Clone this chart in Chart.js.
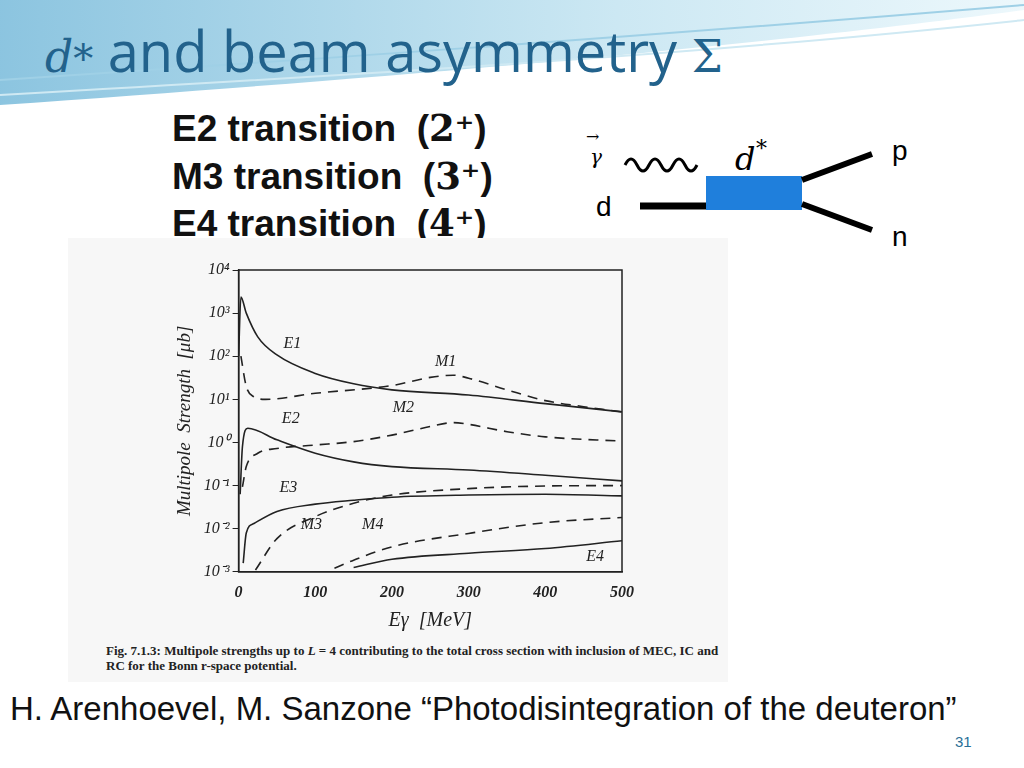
<!DOCTYPE html>
<html>
<head>
<meta charset="utf-8">
<script src="https://cdn.jsdelivr.net/npm/chart.js@4/dist/chart.umd.min.js"></script>
<style>
  body { margin: 0; width: 1024px; height: 768px; overflow: hidden; background: #fff; font-family: "Liberation Sans", Arial, sans-serif; }
  #slide { position: relative; width: 1024px; height: 768px; }
  .abs { position: absolute; }
  #title { left: 45px; top: 12px; font-size: 56px; color: #22628c; font-family: "Open Sans", "Liberation Sans", sans-serif; white-space: nowrap; }
  .trans { left: 172px; font-size: 37px; font-weight: bold; color: #111; white-space: nowrap; }
  #plotbox { left: 68px; top: 238px; width: 660px; height: 444px; background: #f7f7f7; }
  #wrap { left: 170px; top: 244px; width: 470px; height: 393px; }
  #caption { left: 106px; top: 643px; font-family: "Liberation Serif", serif; font-size: 13px; font-weight: bold; color: #222; line-height: 15px; width: 615px; }
  #cite { left: 10px; top: 690px; font-size: 33px; color: #111; white-space: nowrap; }
  #page { left: 955px; top: 733px; font-size: 15px; color: #2a6f97; }
</style>
</head>
<body>
<div id="slide">
  <svg class="abs" style="left:0;top:0" width="1024" height="120">
    <defs>
      <linearGradient id="g" x1="0" y1="0" x2="1" y2="0">
        <stop offset="0" stop-color="#6fb6d8"/>
        <stop offset="0.6" stop-color="#bfe2f0"/>
        <stop offset="1" stop-color="#e8f6fb"/>
      </linearGradient>
    </defs>
    <path d="M0,0 L1024,0 L1024,10 C800,40 500,70 0,105 Z" fill="url(#g)" opacity="0.8"/>
    <path d="M0,80 C300,60 600,40 1024,5" stroke="#9fd0e6" stroke-width="2" fill="none"/>
    <path d="M0,95 C350,75 700,55 1024,20" stroke="#cfe9f3" stroke-width="2" fill="none"/>
  </svg>
  <div id="title" class="abs"><i style="font-family:'DejaVu Serif',serif;font-size:44px">d</i><span style="font-family:'DejaVu Serif',serif;font-size:40px">*</span> and beam asymmetry <span style="font-family:'DejaVu Serif',serif;font-size:44px">Σ</span></div>
  <div class="abs trans" style="top:106px">E2 transition &nbsp;(<span style="font-family:'DejaVu Serif',serif">2⁺</span>)</div>
  <div class="abs trans" style="top:154px">M3 transition &nbsp;(<span style="font-family:'DejaVu Serif',serif">3⁺</span>)</div>
  <div class="abs trans" style="top:201px">E4 transition &nbsp;(<span style="font-family:'DejaVu Serif',serif">4⁺</span>)</div>
  <svg class="abs" style="left:580px;top:120px" width="340" height="130">
    <text x="6" y="22" font-family="DejaVu Serif" font-size="16">→</text>
    <text x="10" y="44" font-family="DejaVu Serif" font-style="italic" font-size="20">γ</text>
    <path d="M45,45 q6,-12 12,0 q6,12 12,0 q6,-12 12,0 q6,12 12,0 q6,-12 12,0 q6,12 12,0" stroke="#000" stroke-width="3" fill="none"/>
    <text x="155" y="50" font-family="DejaVu Serif" font-style="italic" font-size="32">d</text>
    <text x="176" y="36" font-family="DejaVu Serif" font-size="22">*</text>
    <text x="16" y="96" font-family="Liberation Sans" font-size="28">d</text>
    <line x1="60" y1="86" x2="128" y2="86" stroke="#000" stroke-width="7"/>
    <rect x="126" y="56" width="96" height="34" fill="#1f7fdc"/>
    <line x1="222" y1="60" x2="292" y2="34" stroke="#000" stroke-width="6"/>
    <line x1="222" y1="84" x2="292" y2="110" stroke="#000" stroke-width="6"/>
    <text x="312" y="40" font-family="Liberation Sans" font-size="28">p</text>
    <text x="312" y="126" font-family="Liberation Sans" font-size="28">n</text>
  </svg>
  <div id="plotbox" class="abs"></div>
  <div id="wrap" class="abs"><canvas id="c"></canvas></div>
  <div id="caption" class="abs">Fig. 7.1.3: Multipole strengths up to <i>L</i> = 4 contributing to the total cross section with inclusion of MEC, IC and RC for the Bonn r-space potential.</div>
  <div id="cite" class="abs">H. Arenhoevel, M. Sanzone “Photodisintegration of the deuteron”</div>
  <div id="page" class="abs">31</div>
</div>
<script>
  // values, as log10(strength) per energy in MeV
  var e1X = [0, 3, 10, 25, 50, 100, 150, 200, 300, 400, 500];
  var e1L = [2.0, 3.37, 3.0, 2.45, 2.03, 1.6, 1.36, 1.22, 1.1, 0.9, 0.71];
  var m1X = [3, 10, 20, 35, 100, 200, 250, 280, 300, 350, 400, 450, 500];
  var m1L = [2.0, 1.3, 1.06, 1.0, 1.14, 1.32, 1.51, 1.56, 1.49, 1.22, 0.97, 0.83, 0.71];
  var e2X = [2, 5, 12, 50, 100, 150, 200, 300, 400, 500];
  var e2L = [-1.2, -0.1, 0.33, 0.06, -0.25, -0.45, -0.56, -0.64, -0.76, -0.89];
  var m2X = [5, 10, 25, 50, 100, 150, 200, 250, 280, 300, 350, 400, 500];
  var m2L = [-1.03, -0.56, -0.25, -0.14, -0.06, 0.02, 0.17, 0.37, 0.46, 0.42, 0.25, 0.13, 0.03];
  var e3X = [6, 10, 20, 50, 100, 150, 200, 300, 400, 500];
  var e3L = [-2.8, -2.1, -1.88, -1.6, -1.43, -1.34, -1.27, -1.22, -1.2, -1.24];
  var m3X = [22, 50, 100, 150, 200, 300, 400, 500];
  var m3L = [-2.96, -2.23, -1.72, -1.41, -1.22, -1.07, -1.01, -1.0];
  var m4X = [125, 150, 200, 300, 400, 500];
  var m4L = [-2.92, -2.73, -2.42, -2.11, -1.86, -1.74];
  var e4X = [150, 200, 300, 400, 500];
  var e4L = [-2.9, -2.71, -2.57, -2.46, -2.28];
  var tickPowers = [-3, -2, -1, 0, 1, 2, 3, 4];
  var sup = { "-": "⁻", "0": "⁰", "1": "¹", "2": "²", "3": "³", "4": "⁴" };
  var curveLabels = [
    { t: "E1", x: 70, y: 2.2 }, { t: "M1", x: 270, y: 1.78 },
    { t: "M2", x: 215, y: 0.7 }, { t: "E2", x: 68, y: 0.45 },
    { t: "E3", x: 65, y: -1.15 }, { t: "M3", x: 95, y: -2.0 },
    { t: "M4", x: 175, y: -2.0 }, { t: "E4", x: 465, y: -2.75 }
  ];

  function pts(xs, ls) {
    return xs.map(function (x, i) { return { x: x, y: Math.pow(10, ls[i]) }; });
  }
  function series(xs, ls, dashed) {
    return {
      data: pts(xs, ls),
      borderColor: "#222",
      borderWidth: 1.6,
      borderDash: dashed ? [10, 7] : [],
      pointRadius: 0,
      cubicInterpolationMode: "monotone",
      fill: false
    };
  }

  var labelPlugin = {
    id: "curveLabels",
    afterDatasetsDraw: function (chart) {
      var ctx = chart.ctx, xs = chart.scales.x, ys = chart.scales.y, a = chart.chartArea;
      ctx.save();
      ctx.strokeStyle = "#222";
      ctx.lineWidth = 1.5;
      ctx.strokeRect(a.left, a.top, a.right - a.left, a.bottom - a.top);
      ctx.fillStyle = "#222";
      ctx.font = "italic 16px 'Liberation Serif', serif";
      ctx.textAlign = "center";
      curveLabels.forEach(function (l) {
        ctx.fillText(l.t, xs.getPixelForValue(l.x), ys.getPixelForValue(Math.pow(10, l.y)));
      });
      ctx.restore();
    }
  };

  new Chart(document.getElementById("c"), {
    type: "line",
    data: {
      datasets: [
        series(e1X, e1L, false), series(m1X, m1L, true),
        series(e2X, e2L, false), series(m2X, m2L, true),
        series(e3X, e3L, false), series(m3X, m3L, true),
        series(m4X, m4L, true), series(e4X, e4L, false)
      ]
    },
    options: {
      responsive: true,
      maintainAspectRatio: false,
      animation: false,
      layout: { padding: { top: 26, right: 18 } },
      plugins: { legend: { display: false }, tooltip: { enabled: false } },
      scales: {
        x: {
          type: "linear", min: 0, max: 500,
          ticks: { stepSize: 100, color: "#222", font: { family: "Liberation Serif", style: "italic", size: 16, weight: "bold" } },
          grid: { display: false },
          border: { color: "#222", width: 1.5 },
          title: { display: true, text: "Eγ  [MeV]", color: "#222", font: { family: "Liberation Serif", style: "italic", size: 20 } }
        },
        y: {
          type: "logarithmic", min: 1e-3, max: 1e4,
          afterBuildTicks: function (axis) {
            axis.ticks = tickPowers.map(function (p) { return { value: Math.pow(10, p) }; });
          },
          ticks: {
            color: "#222",
            font: { family: "Liberation Serif", style: "italic", size: 16 },
            callback: function (v) {
              var p = String(Math.round(Math.log10(v)));
              return "10" + p.split("").map(function (ch) { return sup[ch]; }).join("");
            }
          },
          grid: { display: true, drawOnChartArea: false, tickLength: 6, color: "#222" },
          border: { color: "#222", width: 1.5 },
          title: { display: true, text: "Multipole  Strength  [μb]", color: "#222", font: { family: "Liberation Serif", style: "italic", size: 19 } }
        }
      }
    },
    plugins: [labelPlugin]
  });
</script>
</body>
</html>
